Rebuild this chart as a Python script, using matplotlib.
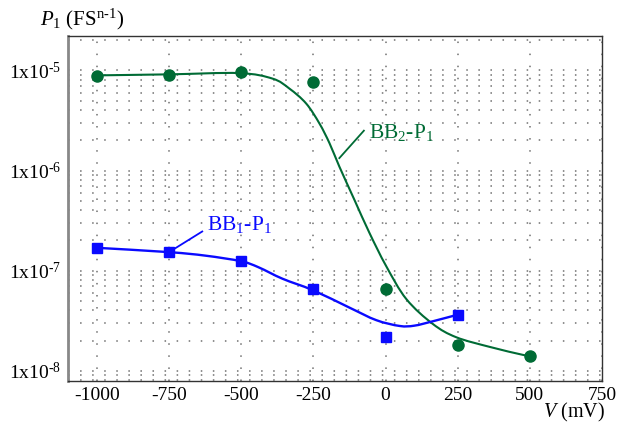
import numpy as np
import matplotlib
matplotlib.use("Agg")
import matplotlib.pyplot as plt
from matplotlib.path import Path
from matplotlib.patches import PathPatch
from matplotlib.ticker import LogLocator, NullFormatter

plt.rcParams["font.family"] = "Liberation Serif"
plt.rcParams["mathtext.fontset"] = "custom"
plt.rcParams["mathtext.rm"] = "Liberation Serif"
plt.rcParams["mathtext.it"] = "Liberation Serif:italic"
plt.rcParams["axes.unicode_minus"] = False

# measured points
v_pts = [-1000, -750, -500, -250, 0, 250, 500]
bb2_pts = [8.7e-6, 8.9e-6, 9.6e-6, 7.65e-6, 6.6e-8, 1.81e-8, 1.39e-8]
v_pts1 = [-1000, -750, -500, -250, 0, 250]
bb1_pts = [1.69e-7, 1.53e-7, 1.25e-7, 6.5e-8, 2.19e-8, 3.63e-8]

# fitted curves: knots
v_fit2 = [-1000, -750, -507, -391, -333, -275, -229, -194, -160, -108, -56, 2, 72, 164,
          245, 361, 476, 500]
bb2_fit = [8.92e-6, 9.13e-6, 9.4e-6, 8.27e-6, 6.58e-6, 4.67e-6, 2.95e-6, 1.87e-6, 1.095e-6,
           5.11e-7, 2.39e-7, 1.113e-7, 5.2e-8, 2.93e-8, 2.16e-8, 1.73e-8, 1.44e-8, 1.41e-8]
v_fit1 = [-1000, -750, -623, -500, -440, -357, -252, -125, -32, 49, 100, 164, 250]
bb1_fit = [1.69e-7, 1.53e-7, 1.41e-7, 1.24e-7, 1.08e-7, 8.3e-8, 6.38e-8, 4.27e-8, 3.2e-8,
           2.8e-8, 2.82e-8, 3.12e-8, 3.63e-8]

green = "#006b35"
blue = "#0a0aff"


def smooth_path(xs, ys):
    # Catmull-Rom knots -> cubic bezier, built in (x, log y) space
    p = np.column_stack([xs, np.log10(ys)])
    p = np.vstack([p[0], p, p[-1]])
    verts, codes = [p[1]], [Path.MOVETO]
    for i in range(1, len(p) - 2):
        c1 = p[i] + (p[i + 1] - p[i - 1]) / 6
        c2 = p[i + 1] - (p[i + 2] - p[i]) / 6
        verts += [c1, c2, p[i + 1]]
        codes += [Path.CURVE4] * 3
    verts = np.array(verts)
    verts[:, 1] = 10 ** verts[:, 1]
    return Path(verts, codes)


fig = plt.figure(figsize=(6.2, 4.3), dpi=100)
ax = fig.add_axes([0.1097, 0.114, 0.8613, 0.802])

ax.add_patch(PathPatch(smooth_path(v_fit2, bb2_fit), fill=False, ec=green, lw=1.5))
ax.plot(v_pts, bb2_pts, "o", color=green, ms=8, mec=green)
ax.add_patch(PathPatch(smooth_path(v_fit1, bb1_fit), fill=False, ec=blue, lw=1.7))
ax.plot(v_pts1, bb1_pts, "s", color=blue, ms=7, mec=blue)

# leader lines + labels
ax.plot([-160, -75], [1.33e-6, 2.5e-6], color=green, lw=1.3)
ax.text(-58, 2.4e-6, "BB$_2$-P$_1$", color=green, fontsize=15.5, va="center", ha="left")
ax.plot([-750, -635], [1.53e-7, 2.46e-7], color=blue, lw=1.3)
ax.text(-620, 2.9e-7, "BB$_1$-P$_1$", color=blue, fontsize=15.5, va="center", ha="left")

ax.set_yscale("log")
ax.set_xlim(-1100, 750)
ax.set_ylim(7.9e-9, 2.2e-5)
ax.set_xticks([-1000, -750, -500, -250, 0, 250, 500, 750])
ax.set_yticks([1e-8, 1e-7, 1e-6, 1e-5])
ax.set_yticklabels([r"1x10$^{\text{-}8}$", r"1x10$^{\text{-}7}$",
                    r"1x10$^{\text{-}6}$", r"1x10$^{\text{-}5}$"])
ax.yaxis.set_minor_locator(LogLocator(base=10, subs=np.arange(2, 10)))
ax.yaxis.set_minor_formatter(NullFormatter())
ax.tick_params(axis="both", which="both", length=0, labelsize=14)
ax.tick_params(axis="x", pad=4)
ax.tick_params(axis="y", pad=5)

dots = (0, (1, 6.9))
ax.grid(True, axis="x", which="major", color="#707070", lw=1.1, linestyle=dots)
ax.grid(True, axis="y", which="both", color="#707070", lw=1.1, linestyle=dots)
ax.set_axisbelow(True)

for s in ["top", "right", "bottom"]:
    ax.spines[s].set_color("#333333")
    ax.spines[s].set_linewidth(1.0)
ax.spines["left"].set_color("#888888")
ax.spines["left"].set_linewidth(2.0)

fig.text(0.065, 0.955, r"$P_1$ (FS$^{\mathrm{n\text{-}1}}$)", fontsize=15, ha="left", va="center")
fig.text(0.975, 0.04, "$V$ (mV)", fontsize=14.5, ha="right", va="center")

fig.savefig("out.png", dpi=100)
